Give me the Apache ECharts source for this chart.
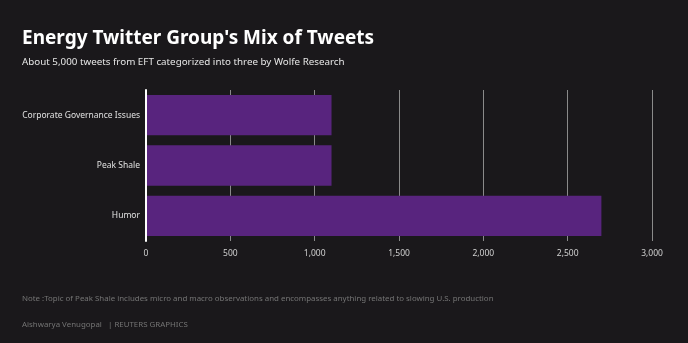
<!DOCTYPE html>
<html><head><meta charset="utf-8">
<script src="https://cdn.jsdelivr.net/npm/echarts@6/dist/echarts.min.js"></script>
<style>html,body{margin:0;padding:0;background:#1a181b;}#c{width:688px;height:343px;}</style>
</head><body><div id="c"></div>
<script>
var categories = ["Corporate Governance Issues", "Peak Shale", "Humor"];
var values = [1100, 1100, 2700];
var tickMax = 3000;
var tickStep = 500;

var chart = echarts.init(document.getElementById('c'), null, {renderer: 'canvas'});
var font = '"Noto Sans", "Open Sans", sans-serif';
chart.setOption({
  backgroundColor: '#1a181b',
  animation: false,
  title: [
    {text: "Energy Twitter Group's Mix of Tweets", left: 22, top: 29, padding: 0,
     textStyle: {color: '#ffffff', fontSize: 19, fontWeight: 'bold', fontFamily: font}},
    {text: "About 5,000 tweets from EFT categorized into three by Wolfe Research", left: 22, top: 57, padding: 0,
     textStyle: {color: '#e6e6e6', fontSize: 9.8, fontWeight: 'normal', fontFamily: font}},
    {text: "Note :Topic of Peak Shale includes micro and macro observations and encompasses anything related to slowing U.S. production", left: 22, top: 295, padding: 0,
     textStyle: {color: '#747474', fontSize: 7.9, fontWeight: 'normal', fontFamily: font}},
    {text: "Aishwarya Venugopal   | REUTERS GRAPHICS", left: 22, top: 321, padding: 0,
     textStyle: {color: '#747474', fontSize: 7.9, fontWeight: 'normal', fontFamily: font}}
  ],
  grid: {left: 146, right: 36, top: 90, bottom: 102, containLabel: false},
  xAxis: {
    type: 'value', min: 0, max: tickMax, interval: tickStep,
    axisLine: {show: false}, axisTick: {show: false},
    axisLabel: {color: '#d0d0d0', fontSize: 8.5, fontFamily: font, margin: 8,
      formatter: function(v){ return v.toLocaleString('en-US'); }},
    splitLine: {show: true, lineStyle: {color: '#8a8a8a', width: 1}}
  },
  yAxis: {
    type: 'category', data: categories, inverse: true, z: 5,
    axisLine: {show: true, lineStyle: {color: '#ffffff', width: 2}},
    axisTick: {show: false},
    axisLabel: {color: '#e0e0e0', fontSize: 8.5, fontFamily: font, margin: 6}
  },
  series: [{
    type: 'bar', data: values, barCategoryGap: '20%',
    itemStyle: {color: '#58247e'}
  }]
});
</script></body></html>
